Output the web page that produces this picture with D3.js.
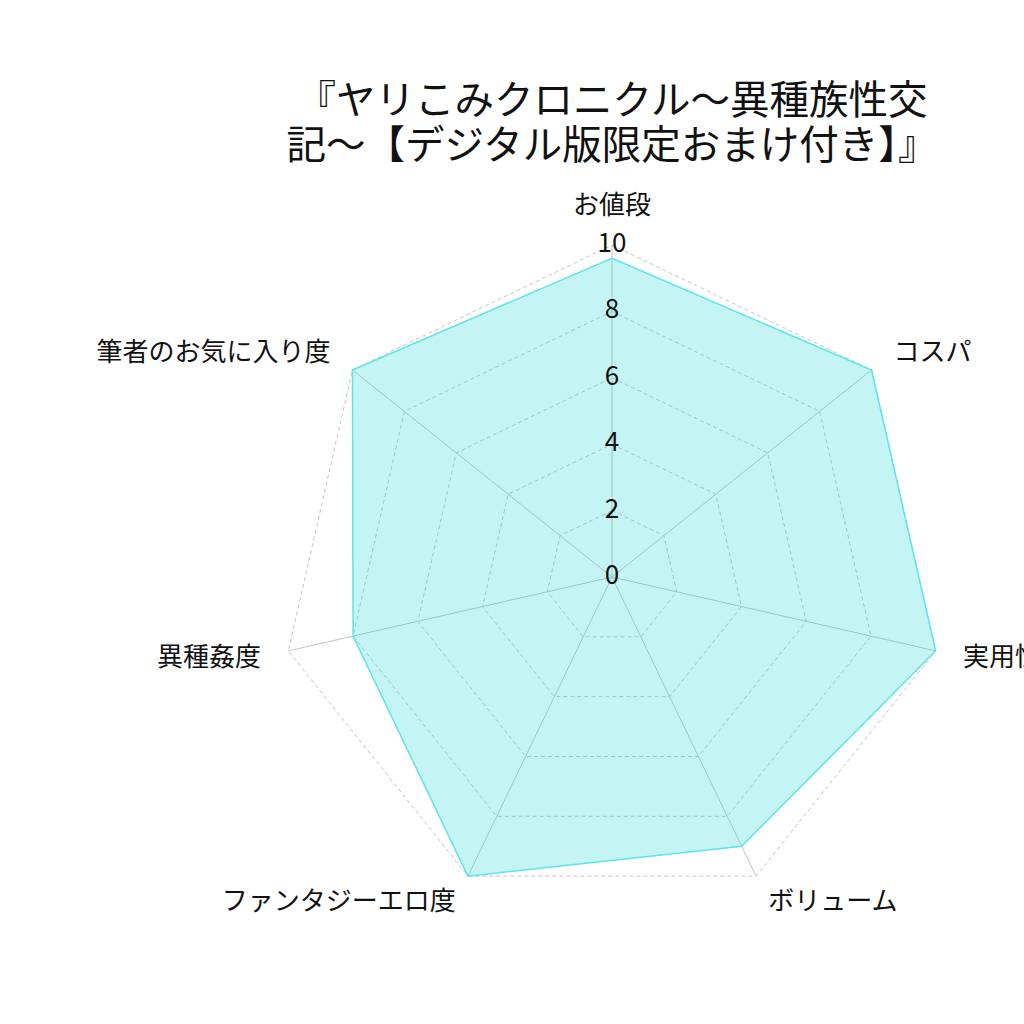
<!DOCTYPE html>
<html>
<head>
<meta charset="utf-8">
<script src="https://cdn.jsdelivr.net/npm/d3@7"></script>
<style>
  body { margin: 0; background: #fff; }
  text { font-family: "Noto Sans CJK JP", "Noto Sans", sans-serif; font-weight: 400; fill: #111; }
</style>
</head>
<body>
<script>
// Daten
const titleLines = ["『ヤリこみクロニクル〜異種族性交", "記〜【デジタル版限定おまけ付き】』"];
const categories = ["お値段", "コスパ", "実用性", "ボリューム", "ファンタジーエロ度", "異種姦度", "筆者のお気に入り度"];
const values = [9.6, 10, 10, 9, 10, 8, 10];
const ticks = [0, 2, 4, 6, 8, 10];

const width = 1024;
const height = 1024;
const cx = 612;
const cy = 577;
const rMax = 332;

const svg = d3.select("body").append("svg")
  .attr("width", width)
  .attr("height", height);

const r = d3.scaleLinear().domain([0, 10]).range([0, rMax]);
const angle = d3.scaleLinear().domain([0, categories.length]).range([0, 2 * Math.PI]);

function pt(i, v) {
  const a = angle(i);
  return [cx + r(v) * Math.sin(a), cy - r(v) * Math.cos(a)];
}

// Gitternetz (gestrichelt)
const g = svg.append("g");
ticks.filter(t => t > 0).forEach(t => {
  g.append("polygon")
    .attr("points", categories.map((c, i) => pt(i, t).join(",")).join(" "))
    .attr("fill", "none")
    .attr("stroke", "#c4c4c4")
    .attr("stroke-width", 1)
    .attr("stroke-dasharray", "4,3");
});

// Achsen
categories.forEach((c, i) => {
  const [x, y] = pt(i, 10);
  g.append("line")
    .attr("x1", cx).attr("y1", cy)
    .attr("x2", x).attr("y2", y)
    .attr("stroke", "#c4c4c4")
    .attr("stroke-width", 1);
});

// Datenfläche
svg.append("polygon")
  .attr("points", values.map((v, i) => pt(i, v).join(",")).join(" "))
  .attr("fill", "rgb(19,211,211)")
  .attr("fill-opacity", 0.25)
  .attr("stroke", "rgb(92,229,235)")
  .attr("stroke-width", 1.5);

// Achsenbeschriftungen
categories.forEach((c, i) => {
  const a = angle(i);
  const lx = cx + 360 * Math.sin(a);
  const ly = cy - 360 * Math.cos(a) - 3;
  const s = Math.sin(a);
  const anchor = Math.abs(s) < 0.1 ? "middle" : (s > 0 ? "start" : "end");
  svg.append("text")
    .attr("x", lx)
    .attr("y", i === 0 ? ly - 12 : ly)
    .attr("text-anchor", anchor)
    .attr("dominant-baseline", "central")
    .style("font-size", "26px")
    .text(c);
});

// Skalenwerte
ticks.forEach(t => {
  svg.append("text")
    .attr("x", cx)
    .attr("y", cy - r(t) - 4.5)
    .attr("text-anchor", "middle")
    .attr("dominant-baseline", "central")
    .style("font-size", "26px")
    .text(t);
});

// Titel
titleLines.forEach((line, i) => {
  svg.append("text")
    .attr("x", 612)
    .attr("y", 96 + i * 45)
    .attr("text-anchor", "middle")
    .attr("dominant-baseline", "central")
    .style("font-size", "39.5px")
    .text(line);
});
</script>
</body>
</html>
